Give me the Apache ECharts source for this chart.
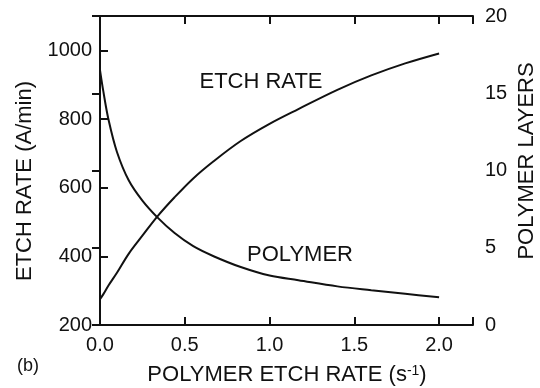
<!DOCTYPE html>
<html>
<head>
<meta charset="utf-8">
<script src="https://cdn.jsdelivr.net/npm/echarts@6/dist/echarts.min.js"></script>
<style>
  html, body { margin: 0; padding: 0; background: #fff; }
  #chartmain { width: 540px; height: 388px; }
</style>
</head>
<body>
<div id="chartmain"></div>
<script>
// values
var xValues = [0, 0.02, 0.05, 0.1, 0.17, 0.25, 0.34, 0.44, 0.55, 0.67, 0.83, 1.0, 1.17, 1.4, 1.6, 1.8, 2.0];
var etchRate = [275, 290, 315, 352, 408, 460, 517, 572, 627, 677, 736, 786, 829, 885, 927, 962, 991];
var polymerLayers = [16.5, 15.1, 13.3, 11.2, 9.35, 8.05, 6.95, 5.95, 5.1, 4.45, 3.75, 3.2, 2.9, 2.5, 2.25, 2.02, 1.8];
var xTicks = [0, 0.5, 1.0, 1.5, 2.0];
var leftTicks = [200, 400, 600, 800, 1000];
var rightTicks = [0, 5, 10, 15, 20];

var fontName = 'Liberation Sans';
var ink = '#111';

function pairs(xs, ys) {
    var out = [];
    for (var i = 0; i < xs.length; i++) {
        out.push([xs[i], ys[i]]);
    }
    return out;
}

var axisLineStyle = { show: true, lineStyle: { color: ink, width: 2 } };
var tickStyle = { show: true, inside: true, length: 8, lineStyle: { color: ink, width: 2 } };
var labelStyle = { color: ink, fontSize: 20, fontFamily: fontName };

var option = {
    backgroundColor: '#fff',
    animation: false,
    grid: { left: 100, right: 67, top: 16, bottom: 63 },
    xAxis: [
        {
            type: 'value', min: 0, max: 2.2, interval: 0.5,
            axisLine: axisLineStyle,
            axisTick: tickStyle,
            splitLine: { show: false },
            axisLabel: Object.assign({
                margin: 10,
                formatter: function (v) {
                    return xTicks.indexOf(v) >= 0 ? v.toFixed(1) : '';
                }
            }, labelStyle)
        },
        {
            type: 'value', position: 'top', min: 0, max: 2.2, interval: 0.5,
            axisLine: axisLineStyle,
            axisTick: tickStyle,
            splitLine: { show: false },
            axisLabel: { show: false }
        }
    ],
    yAxis: [
        {
            type: 'value', min: 200, max: 1100, interval: 200,
            axisLine: axisLineStyle,
            axisTick: tickStyle,
            splitLine: { show: false },
            axisLabel: Object.assign({
                margin: 8,
                formatter: function (v) {
                    return leftTicks.indexOf(v) >= 0 ? v : '';
                }
            }, labelStyle)
        },
        {
            type: 'value', position: 'right', min: 0, max: 20, interval: 5,
            axisLine: axisLineStyle,
            axisTick: tickStyle,
            splitLine: { show: false },
            axisLabel: Object.assign({
                margin: 12,
                formatter: function (v) {
                    return rightTicks.indexOf(v) >= 0 ? v : '';
                }
            }, labelStyle)
        }
    ],
    graphic: [
        {
            type: 'text', x: 25, y: 181, rotation: Math.PI / 2,
            style: { text: 'ETCH RATE (A/min)', fill: ink, fontSize: 22, fontFamily: fontName,
                     align: 'center', verticalAlign: 'middle' }
        },
        {
            type: 'text', x: 527, y: 161, rotation: Math.PI / 2,
            style: { text: 'POLYMER LAYERS', fill: ink, fontSize: 22, fontFamily: fontName,
                     align: 'center', verticalAlign: 'middle' }
        },
        {
            type: 'text', x: 287, y: 375,
            style: {
                text: 'POLYMER ETCH RATE (s{sup|-1})',
                fill: ink, fontSize: 22, fontFamily: fontName,
                align: 'center', verticalAlign: 'middle',
                rich: { sup: { fontSize: 14, fontFamily: fontName, fill: ink, verticalAlign: 'top' } }
            }
        },
        {
            type: 'text', x: 28, y: 366,
            style: { text: '(b)', fill: ink, fontSize: 18, fontFamily: fontName,
                     align: 'center', verticalAlign: 'middle' }
        },
        {
            type: 'text', x: 261, y: 82,
            style: { text: 'ETCH RATE', fill: ink, fontSize: 22, fontFamily: fontName,
                     align: 'center', verticalAlign: 'middle' }
        },
        {
            type: 'text', x: 300, y: 255,
            style: { text: 'POLYMER', fill: ink, fontSize: 22, fontFamily: fontName,
                     align: 'center', verticalAlign: 'middle' }
        }
    ],
    series: [
        {
            name: 'ETCH RATE',
            type: 'line',
            xAxisIndex: 0, yAxisIndex: 0,
            showSymbol: false,
            smooth: 0.35,
            lineStyle: { color: ink, width: 2 },
            data: pairs(xValues, etchRate)
        },
        {
            name: 'POLYMER',
            type: 'line',
            xAxisIndex: 0, yAxisIndex: 1,
            showSymbol: false,
            smooth: 0.35,
            lineStyle: { color: ink, width: 2 },
            data: pairs(xValues, polymerLayers)
        }
    ]
};

var myChart = echarts.init(document.getElementById('chartmain'));
myChart.setOption(option);
</script>
</body>
</html>
